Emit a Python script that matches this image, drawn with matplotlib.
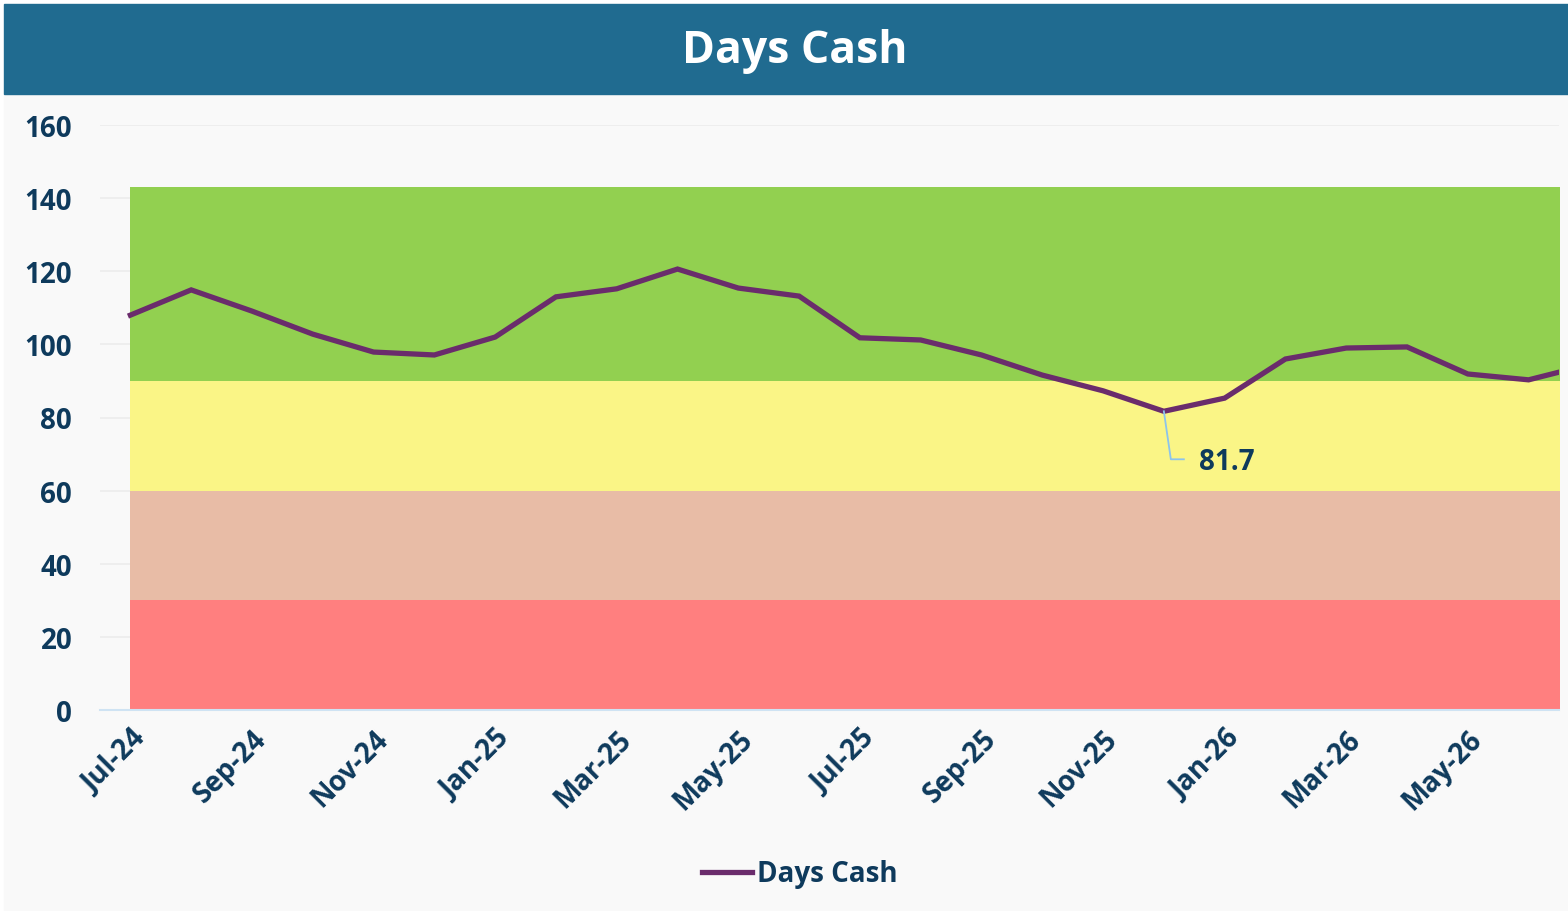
import matplotlib.pyplot as plt
from matplotlib.patches import Rectangle
from matplotlib.lines import Line2D
from matplotlib.transforms import IdentityTransform

plt.rcParams['font.family'] = ['Open Sans', 'DejaVu Sans']

# --- data ---
months = ['Jul-24', 'Aug-24', 'Sep-24', 'Oct-24', 'Nov-24', 'Dec-24',
          'Jan-25', 'Feb-25', 'Mar-25', 'Apr-25', 'May-25', 'Jun-25',
          'Jul-25', 'Aug-25', 'Sep-25', 'Oct-25', 'Nov-25', 'Dec-25',
          'Jan-26', 'Feb-26', 'Mar-26', 'Apr-26', 'May-26', 'Jun-26',
          'Jul-26']
days_cash = [108.0, 114.9, 109.1, 102.8, 97.9, 97.1,
             102.0, 113.0, 115.2, 120.6, 115.4, 113.2,
             101.8, 101.2, 97.1, 91.6, 87.3, 81.7,
             85.3, 96.0, 99.0, 99.3, 91.9, 90.3,
             94.5]

# status bands (lower, upper)
band_edges = [0, 30, 60, 90, 143]
band_colors = ['#ff7f7f', '#e8bca6', '#faf586', '#92d050']

navy = '#0e3a5c'
purple = '#6a2c6c'

fig = plt.figure(figsize=(15.68, 9.12), dpi=100)
fig.patch.set_facecolor('white')

# panel + title bar
fig.patches.append(Rectangle((4 / 1568, 0), 1, (912 - 95) / 912,
                             transform=fig.transFigure, color='#f9f9f9', zorder=-2))
fig.patches.append(Rectangle((4 / 1568, (912 - 95) / 912), 1, 90 / 912,
                             transform=fig.transFigure, color='#206b90', zorder=-2))
fig.text(0.507, 1 - 52 / 912, 'Days Cash', color='white', fontsize=32,
         fontweight='bold', ha='center', va='center')

ax = fig.add_axes([100 / 1568, (912 - 711) / 912, 1459 / 1568, 585 / 912])
ax.set_facecolor('none')

x = list(range(len(months)))
for lo, hi, c in zip(band_edges[:-1], band_edges[1:], band_colors):
    ax.fill_between([0, len(months)], lo, hi, color=c, lw=0, zorder=1)

ax.plot(x, days_cash, color=purple, lw=3.8, zorder=3, label='Days Cash',
        solid_joinstyle='miter')

ax.set_xlim(-0.5, 23.5)
ax.set_ylim(0, 160)
ax.set_yticks(range(0, 161, 20))
ax.grid(axis='y', color='#ececec', lw=1.2, zorder=0)
ax.set_axisbelow(True)
for s in ['top', 'right', 'left']:
    ax.spines[s].set_visible(False)
ax.spines['bottom'].set_color('#cfe3f3')
ax.spines['bottom'].set_linewidth(1.5)
ax.spines['bottom'].set_zorder(4)

ax.set_xticks(x[0:24:2])
ax.set_xticklabels(months[0:24:2], rotation=45, ha='right', va='top',
                   rotation_mode='anchor')
ax.tick_params(axis='both', length=0, labelsize=20, labelcolor=navy)
ax.tick_params(axis='x', pad=10)
ax.tick_params(axis='y', pad=20)
for lab in ax.get_xticklabels() + ax.get_yticklabels():
    lab.set_fontweight('bold')

# annotation of minimum
imin = days_cash.index(min(days_cash[:24]))
px, py = ax.transData.transform((imin, days_cash[imin]))
fig.add_artist(Line2D([px, px + 7, px + 20], [py, py - 48, py - 48],
                      transform=IdentityTransform(), color='#8cc4ec', lw=1.3))
fig.text((px + 35) / 1568, (py - 50) / 912, f'{days_cash[imin]:.1f}',
         color=navy, fontsize=20, fontweight='bold', ha='left', va='center')

fig.legend(loc='center', bbox_to_anchor=(800 / 1568, 1 - 875 / 912),
           frameon=False, handlelength=1.8, handletextpad=0.2,
           labelcolor=navy, prop={'weight': 'bold', 'size': 20})

fig.savefig('out.png', dpi=100)
